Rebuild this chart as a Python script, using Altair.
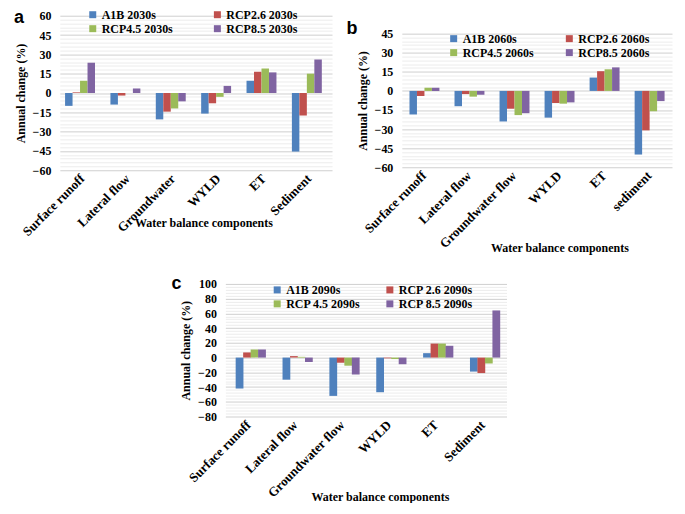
import altair as alt
import pandas as pd

# ---------------- data ----------------
colors = ["#4F81BD", "#C0504D", "#9BBB59", "#8064A2"]

cats_a = ["Surface runoff", "Lateral flow", "Groundwater", "WYLD", "ET", "Sediment"]
series_a = ["A1B 2030s", "RCP2.6 2030s", "RCP4.5 2030s", "RCP8.5 2030s"]
a_A1B = [-10, -9, -20.5, -16, 9.5, -45.5]
a_RCP26 = [0.5, -2, -14.5, -8, 16.5, -17.5]
a_RCP45 = [9.5, 0, -12, -3, 19, 15]
a_RCP85 = [23.5, 3.5, -6.5, 5.5, 16, 26]

cats_b = ["Surface runoff", "Lateral flow", "Groundwater flow", "WYLD", "ET", "sediment"]
series_b = ["A1B 2060s", "RCP2.6 2060s", "RCP4.5 2060s", "RCP8.5 2060s"]
b_A1B = [-18.5, -12, -24, -21, 10.5, -50]
b_RCP26 = [-4, -2.5, -14, -9.5, 15.5, -31]
b_RCP45 = [2.5, -4.5, -19, -10, 17, -16]
b_RCP85 = [2.5, -3, -17.5, -9, 18.5, -8]

cats_c = ["Surface runoff", "Lateral flow", "Groundwater flow", "WYLD", "ET", "Sediment"]
series_c = ["A1B 2090s", "RCP 2.6 2090s", "RCP 4.5 2090s", "RCP 8.5 2090s"]
c_A1B = [-42, -30, -52, -47, 6, -19]
c_RCP26 = [7, 2, -7, -1, 19, -21]
c_RCP45 = [11, 1, -11, -2, 19, -8]
c_RCP85 = [11, -6, -23, -9, 16, 64]

SERIF = "Liberation Serif"
SANS = "Liberation Sans"


def long_df(cats, series, cols):
    rows = []
    for s, vals in zip(series, cols):
        for c, v in zip(cats, vals):
            rows.append({"cat": c, "series": s, "value": v})
    return pd.DataFrame(rows)


def panel(letter, cats, series, cols, ymin, ymax, major, minor, width, height,
          yrange, leg_x, leg_y, col_pad, row_pad, letter_x, letter_y, title_x, title_y,
          bar_w):
    df = long_df(cats, series, cols)
    ticks = list(range(ymin, ymax + 1, minor))
    bars = alt.Chart(df).mark_bar(width=bar_w).encode(
        x=alt.X("cat:N", sort=cats,
                scale=alt.Scale(paddingInner=0.34, paddingOuter=0.17),
                axis=alt.Axis(title="Water balance components", labelAngle=-45,
                              labelAlign="right", labelBaseline="middle",
                              labelFont=SERIF, labelFontWeight="bold", labelFontSize=13,
                              labelColor="black", labelPadding=6,
                              titleFont=SERIF, titleFontWeight="bold", titleFontSize=12,
                              titleColor="black", titleX=title_x, titleY=title_y,
                              titleAlign="center", titleBaseline="middle",
                              domain=False, ticks=False, grid=False)),
        xOffset=alt.XOffset("series:N", sort=series,
                            scale=alt.Scale(paddingInner=0, paddingOuter=0)),
        y=alt.Y("value:Q",
                scale=alt.Scale(domain=[ymin, ymax], nice=False, zero=False, range=yrange),
                axis=alt.Axis(title="Annual change (%)", values=ticks,
                              labelExpr=f"datum.value % {major} === 0 ? datum.label : ''",
                              labelFont=SERIF, labelFontWeight="bold", labelFontSize=12,
                              labelColor="black", labelPadding=9,
                              titleFont=SERIF, titleFontWeight="bold", titleFontSize=12,
                              titleColor="black", titlePadding=5,
                              domain=False, ticks=False, grid=True,
                              gridColor={"condition": {"test": f"datum.value % {major} === 0",
                                                       "value": "#cfcfcf"},
                                         "value": "#ececec"},
                              gridWidth=1)),
        color=alt.Color("series:N", sort=series,
                        scale=alt.Scale(domain=series, range=colors),
                        legend=alt.Legend(orient="none", legendX=leg_x, legendY=leg_y,
                                          columns=2, direction="horizontal",
                                          title=None, symbolType="square",
                                          symbolSize=49, symbolStrokeWidth=0,
                                          labelFont=SERIF, labelFontWeight="bold",
                                          labelFontSize=12, labelColor="black",
                                          columnPadding=col_pad, rowPadding=row_pad,
                                          padding=0, labelOffset=3)),
    )
    txt = alt.Chart(pd.DataFrame({"t": [letter]})).mark_text(
        font=SANS, fontWeight="bold", fontSize=18, align="center", baseline="middle",
        color="black"
    ).encode(x=alt.value(letter_x), y=alt.value(letter_y), text="t:N")
    return alt.layer(bars, txt).properties(width=width, height=height)


pa = panel("a", cats_a, series_a, [a_A1B, a_RCP26, a_RCP45, a_RCP85],
           -60, 60, 15, 3, 273, 155, [155, 0], 27, -7, 38, 2, -41, 2, 144, 52, 7.5)
pb = panel("b", cats_b, series_b, [b_A1B, b_RCP26, b_RCP45, b_RCP85],
           -60, 45, 15, 3, 271, 152, [152, 18], 46, 17, 29, 2, -50, 13, 158, 80, 7.5)
pc = panel("c", cats_c, series_c, [c_A1B, c_RCP26, c_RCP45, c_RCP85],
           -80, 100, 20, 4, 282, 133, [133, 0], 46, 0, 23, 2, -49, 0, 155, 80, 7.8)

row1 = alt.hconcat(pa, pb, spacing=14).resolve_scale(
    x="independent", y="independent", color="independent").resolve_legend(color="independent")

chart = alt.vconcat(row1, pc, spacing=22, center=True).resolve_scale(
    x="independent", y="independent", color="independent").resolve_legend(
    color="independent").properties(
    padding={"left": 5, "top": 0, "right": 5, "bottom": 0}
).configure_view(stroke=None).configure_scale(
    offsetBandPaddingInner=0, offsetBandPaddingOuter=0)

chart.save("out.html", embed_options={"renderer": "svg", "actions": False})
